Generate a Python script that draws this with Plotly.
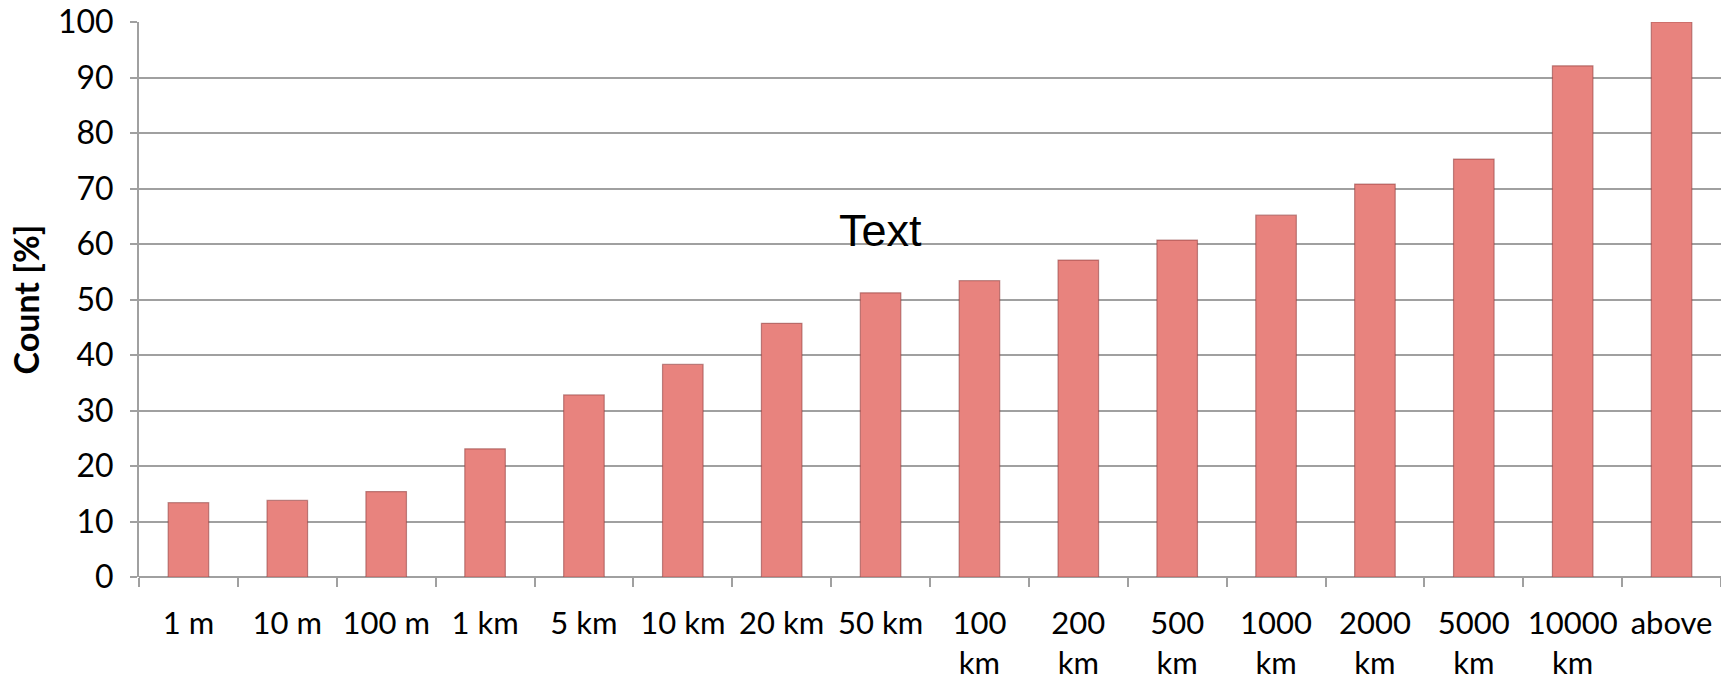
import plotly.graph_objects as go

categories = ["1 m", "10 m", "100 m", "1 km", "5 km", "10 km", "20 km", "50 km",
              "100<br>km", "200<br>km", "500<br>km", "1000<br>km", "2000<br>km",
              "5000<br>km", "10000<br>km", "above"]
counts = [13.4, 13.8, 15.4, 23.1, 32.8, 38.3, 45.7, 51.2,
          53.4, 57.1, 60.7, 65.2, 70.8, 75.3, 92.1, 100.0]
y_ticks = [0, 10, 20, 30, 40, 50, 60, 70, 80, 90, 100]

fig = go.Figure()
fig.add_trace(go.Bar(
    x=categories, y=counts,
    marker=dict(color="#E8837E", line=dict(color="rgba(140,60,60,0.55)", width=1.2)),
    width=0.41,
))

fig.add_annotation(x="50 km", y=62.5, text="Text", showarrow=False,
                   font=dict(family="Liberation Sans, Arial", size=45, color="black"))

grid = "#A0A0A0"
fig.update_layout(
    width=1721, height=683,
    margin=dict(l=139, r=0, t=22, b=106),
    plot_bgcolor="white", paper_bgcolor="white",
    showlegend=False,
    font=dict(family="Lato", size=32, color="black"),
    xaxis=dict(
        type="category", tickson="boundaries", ticks="outside", ticklen=9,
        tickcolor=grid, tickwidth=2, showline=False, showgrid=False,
        tickangle=0,
        tickfont=dict(size=31), ticklabelstandoff=25, automargin=False,
    ),
    yaxis=dict(
        range=[0, 100], tickvals=y_ticks, ticks="outside", ticklen=7,
        tickcolor=grid, tickwidth=2, showline=True, linecolor=grid, linewidth=2,
        showgrid=True, gridcolor=grid, gridwidth=2, zeroline=True,
        zerolinecolor=grid, zerolinewidth=2,
        tickfont=dict(size=32), ticklabelstandoff=10, automargin=False,
        title=dict(text="<b>Count [%]</b>", font=dict(size=34), standoff=8),
    ),
)

fig.write_html("out.html", config={"displayModeBar": False},
               post_script="document.body.style.margin='0px';")
